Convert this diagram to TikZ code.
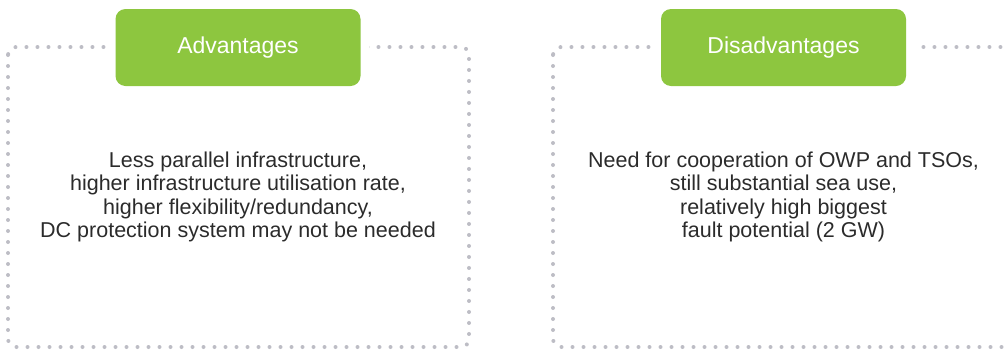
\documentclass[tikz,border=0pt]{standalone}
\usepackage{fontspec}
\setmainfont{Liberation Sans}
\definecolor{hdrgreen}{HTML}{8DC63F}
\definecolor{dotgrey}{HTML}{BDBDC5}
\definecolor{txtgrey}{HTML}{2B2B2B}
\begin{document}
\begin{tikzpicture}[x=1pt,y=-1pt,
  dotframe/.style={draw=dotgrey, line width=4pt, line cap=round,
    dash pattern=on 0pt off 11pt, rounded corners=8pt},
  header/.style={fill=hdrgreen, rounded corners=10pt, minimum width=245pt,
    minimum height=77pt, inner sep=0pt, text=white, font=\fontsize{23}{26}\selectfont},
  mask/.style={fill=white, minimum width=262pt, minimum height=77pt, inner sep=0pt},
  body/.style={align=center, text=txtgrey, font=\fontsize{21.5}{23.3}\selectfont, inner sep=0pt}]
\useasboundingbox (0,0) rectangle (1005,349);
\begin{scope}
\clip (0,0) rectangle (1005,349);
\draw[dotframe] (8,47) rectangle (469,347);
\draw[dotframe] (553,47) rectangle (1014,347);
\end{scope}
\node[mask] (m1) at (238,47.5) {};
\node[mask] (m2) at (783.5,47.5) {};
\node[header] (h1) at (238,47.5) {Advantages};
\node[header] (h2) at (783.5,47.5) {Disadvantages};
\node[body] (t1) at (238,197) {Less parallel infrastructure,\\higher infrastructure utilisation rate,\\higher flexibility/redundancy,\\DC protection system may not be needed};
\node[body] (t2) at (783.5,197) {Need for cooperation of OWP and TSOs,\\still substantial sea use,\\relatively high biggest\\fault potential (2 GW)};
\end{tikzpicture}
\end{document}
